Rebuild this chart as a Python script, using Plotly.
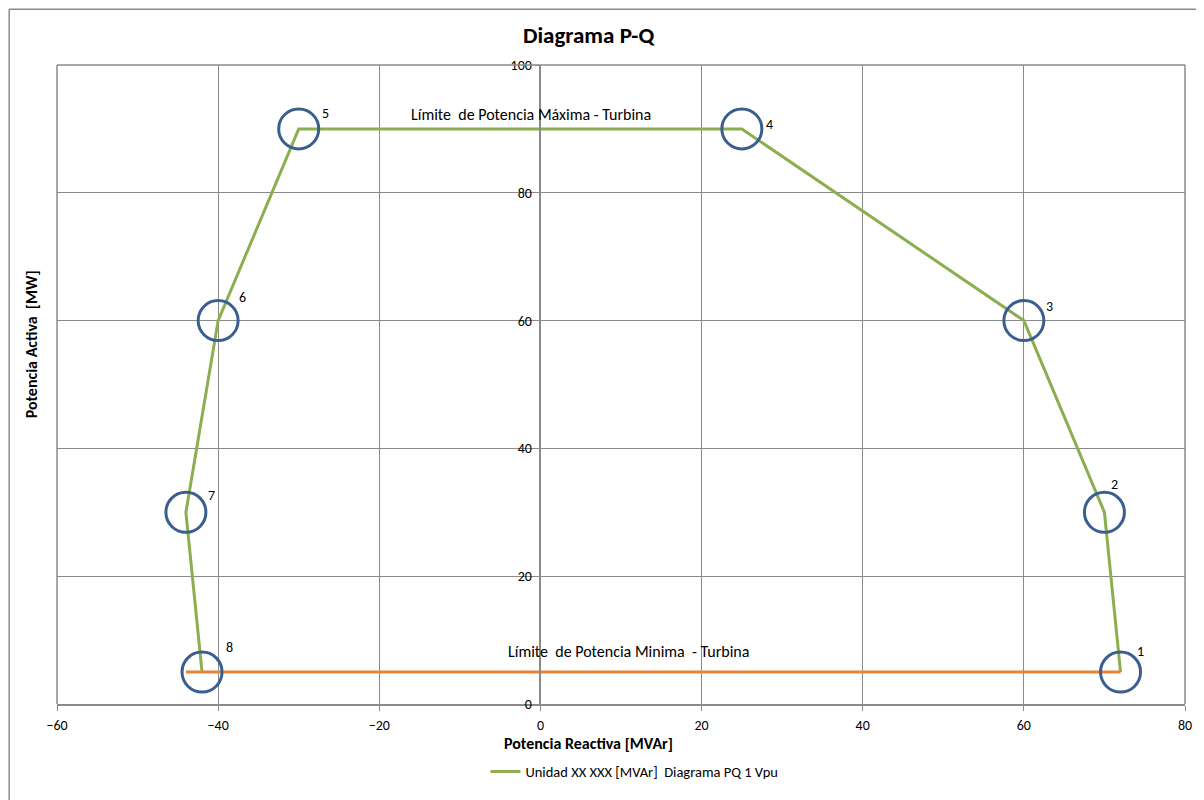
import plotly.graph_objects as go

# Data
q_points = [72, 70, 60, 25, -30, -40, -44, -42]
p_points = [5, 30, 60, 90, 90, 60, 30, 5]
point_labels = ["1", "2", "3", "4", "5", "6", "7", "8"]
q_min_line = [-44, 72]
p_min_line = [5, 5]
x_ticks = [-60, -40, -20, 0, 20, 40, 60, 80]
y_ticks = [0, 20, 40, 60, 80, 100]

FONT = "Carlito, Lato, sans-serif"
GREEN = "#8CAE4F"
ORANGE = "#E6843A"
BLUE = "#3A5F8F"
GRID = "#8A8A8A"

# page offset (body margin) and pixel geometry of plot area in page pixels
OFF = 8
L, R, T, B = 57, 1190, 65, 708
W, H = 1204 - OFF, 800 - OFF
pw, ph = R - L, B - T

def px(x):
    return (x - L) / pw

def py(y):
    return (B - y) / ph

fig = go.Figure()

fig.add_trace(go.Scatter(
    x=q_points, y=p_points, mode="lines",
    line=dict(color=GREEN, width=3),
    name="Unidad XX XXX [MVAr]  Diagrama PQ 1 Vpu",
    showlegend=True,
))
fig.add_trace(go.Scatter(
    x=q_min_line, y=p_min_line, mode="lines",
    line=dict(color=ORANGE, width=3), showlegend=False,
))
fig.add_trace(go.Scatter(
    x=q_points, y=p_points, mode="markers",
    marker=dict(symbol="circle-open", size=40, color=BLUE, line=dict(width=3, color=BLUE)),
    showlegend=False, hoverinfo="skip",
))

shifts = [(20, 21), (10, 28), (26, 14), (28, 4), (27, 15), (24, 23), (26, 17), (27, 25)]
for q, p, lab, (dx, dy) in zip(q_points, p_points, point_labels, shifts):
    fig.add_annotation(x=q, y=p, text=lab, showarrow=False, xshift=dx, yshift=dy,
                       xanchor="center", yanchor="middle",
                       font=dict(family=FONT, size=14, color="#000000"))

fig.add_annotation(x=-1.2, y=92.2, text="Límite  de Potencia Máxima - Turbina", showarrow=False,
                   xanchor="center", yanchor="middle",
                   font=dict(family=FONT, size=16, color="#000000"))
fig.add_annotation(x=10.9, y=8.2, text="Límite  de Potencia Minima  - Turbina", showarrow=False,
                   xanchor="center", yanchor="middle",
                   font=dict(family=FONT, size=16, color="#000000"))

# axis titles
fig.add_annotation(xref="paper", yref="paper", x=px(591), y=py(748),
                   text="<b>Potencia Reactiva [MVAr]</b>", showarrow=False,
                   xanchor="center", yanchor="middle",
                   font=dict(family=FONT, size=16, color="#000000"))
fig.add_annotation(xref="paper", yref="paper", x=px(31), y=py(346),
                   text="<b>Potencia Activa  [MW]</b>", showarrow=False, textangle=-90,
                   xanchor="center", yanchor="middle",
                   font=dict(family=FONT, size=16, color="#000000"))

# outer chart border (left and top), as close to the page corner as the canvas allows
fig.add_shape(type="line", xref="paper", yref="paper", x0=px(OFF + 1), x1=px(OFF + 1),
              y0=py(OFF + 1), y1=py(805), line=dict(color="#8A8A8A", width=1.5))
fig.add_shape(type="line", xref="paper", yref="paper", x0=px(OFF + 1), x1=px(1210),
              y0=py(OFF + 1), y1=py(OFF + 1), line=dict(color="#8A8A8A", width=1.5))

fig.update_layout(
    width=W, height=H,
    margin=dict(l=L - OFF, r=1204 - R, t=T - OFF, b=800 - B),
    paper_bgcolor="white", plot_bgcolor="white",
    font=dict(family=FONT, size=14, color="#000000"),
    title=dict(text="<b>Diagrama P-Q</b>", x=px(607), xanchor="center",
               y=1 - (35 - OFF) / H, yanchor="middle",
               font=dict(family=FONT, size=23, color="#000000")),
    showlegend=True,
    legend=dict(orientation="h", x=px(637), xanchor="center", y=py(776), yanchor="middle",
                font=dict(family=FONT, size=14.5, color="#000000"), bgcolor="rgba(0,0,0,0)"),
    xaxis=dict(range=[-60, 80], tickvals=x_ticks, showgrid=True, gridcolor=GRID, gridwidth=1,
               zeroline=False, showline=True, linecolor=GRID, linewidth=1.5,
               ticks="outside", ticklen=5, tickcolor=GRID, ticklabelstandoff=2,
               tickfont=dict(family=FONT, size=14, color="#000000"), fixedrange=True),
    yaxis=dict(range=[0, 100], tickvals=y_ticks, showgrid=True, gridcolor=GRID, gridwidth=1,
               zeroline=False, showline=True, linecolor=GRID, linewidth=1.5,
               anchor="free", position=60 / 140, side="left",
               ticks="outside", ticklen=5, tickcolor=GRID,
               tickfont=dict(family=FONT, size=14, color="#000000"), fixedrange=True),
)
# plot area border
fig.add_shape(type="line", xref="paper", yref="paper", x0=1, x1=1, y0=0, y1=1,
              line=dict(color=GRID, width=1.5))
fig.add_shape(type="line", xref="paper", yref="paper", x0=0, x1=1, y0=1, y1=1,
              line=dict(color=GRID, width=1.5))
fig.add_shape(type="line", xref="paper", yref="paper", x0=0, x1=0, y0=0, y1=1,
              line=dict(color=GRID, width=1.5))

fig.write_html("out.html")
